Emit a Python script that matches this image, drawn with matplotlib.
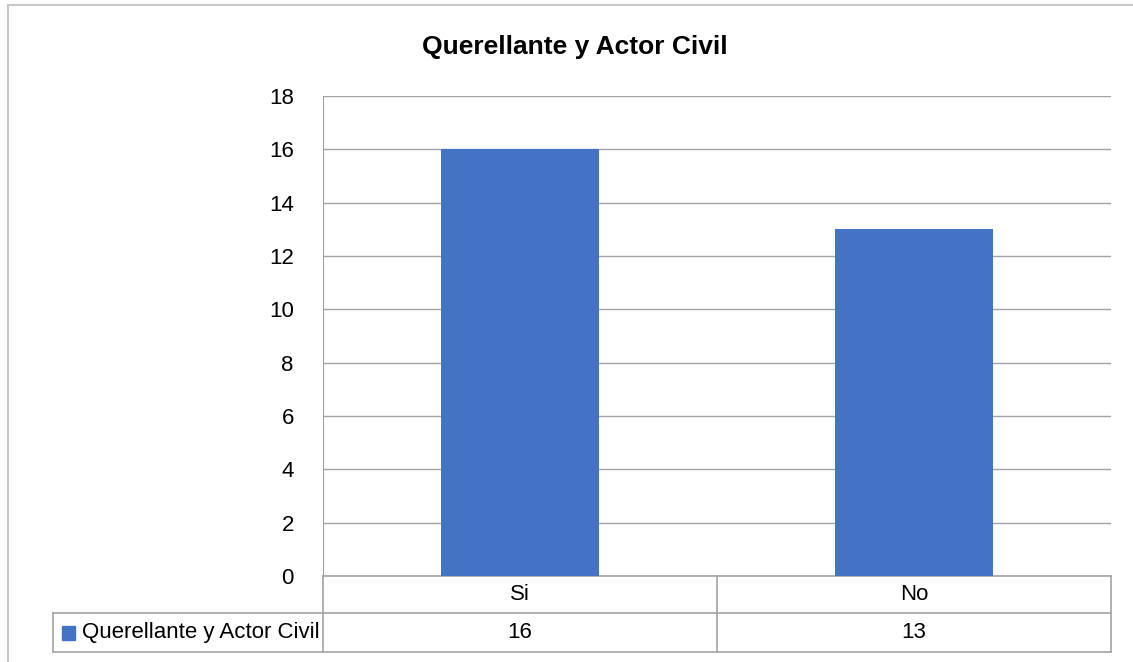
import matplotlib
matplotlib.use('Agg')
from matplotlib import pyplot as plt
from matplotlib.patches import Rectangle

categories = ['Si', 'No']
values = [16, 13]
series_name = 'Querellante y Actor Civil'
title = 'Querellante y Actor Civil'
yticks = [0, 2, 4, 6, 8, 10, 12, 14, 16, 18]

plt.rcParams['font.family'] = ['Liberation Sans Narrow', 'Liberation Sans', 'DejaVu Sans']

W, H = 1133, 662
fig = plt.figure(figsize=(W / 100, H / 100), dpi=100)
grid_c = '#a3a3a3'
bar_c = '#4472c4'
fs = 16

# outer chart border
fig.patches.append(Rectangle((8 / W, -0.1), 1.2, (H - 5) / H + 0.1, transform=fig.transFigure,
                             fill=False, edgecolor='#c8c8c8', linewidth=1.5))

ax = fig.add_axes([323 / W, (H - 576) / H, 788 / W, 480 / H])
x = list(range(len(categories)))
ax.bar(x, values, width=0.4, color=bar_c, zorder=3)
ax.set_xlim(-0.5, len(categories) - 0.5)
ax.set_ylim(0, 18)
ax.set_yticks(yticks)
ax.set_yticklabels([str(t) for t in yticks], fontsize=fs)
ax.tick_params(axis='y', length=0, pad=21)
ax.set_xticks([])
ax.grid(axis='y', color=grid_c, linewidth=1, zorder=0)
for s in ['top', 'right', 'bottom']:
    ax.spines[s].set_visible(False)
ax.spines['left'].set_color(grid_c)

fig.text(575 / W, 1 - 47 / H, title, ha='center', va='center', fontsize=19, fontweight='bold')

# data table below the axis
tr = ax.get_xaxis_transform()
r1, r2 = -37 / 480, -76 / 480
left = -0.5 - 270 / 394
right = len(categories) - 0.5
kw = dict(color=grid_c, linewidth=1.2, clip_on=False, transform=tr)
ax.plot([-0.5, right], [0, 0], **kw)
ax.plot([-0.5, right], [r1, r1], **kw)
ax.plot([left, right], [r2, r2], **kw)
ax.plot([left, -0.5], [r1, r1], **kw)
ax.plot([left, left], [r1, r2], **kw)
ax.plot([-0.5, -0.5], [0, r2], **kw)
for i in range(len(categories)):
    ax.plot([i + 0.5, i + 0.5], [0, r2], **kw)
for i, (c, v) in enumerate(zip(categories, values)):
    ax.text(i, r1 / 2, c, transform=tr, ha='center', va='center', fontsize=fs)
    ax.text(i, (r1 + r2) / 2, str(v), transform=tr, ha='center', va='center', fontsize=fs)
ax.add_patch(Rectangle((left + 9 / 394, (r1 + r2) / 2 - 7 / 480), 13 / 394, 14 / 480,
                       transform=tr, color=bar_c, clip_on=False))
ax.text(left + 29 / 394, (r1 + r2) / 2, series_name, transform=tr, ha='left', va='center', fontsize=fs)

fig.savefig('out.png', dpi=100)
